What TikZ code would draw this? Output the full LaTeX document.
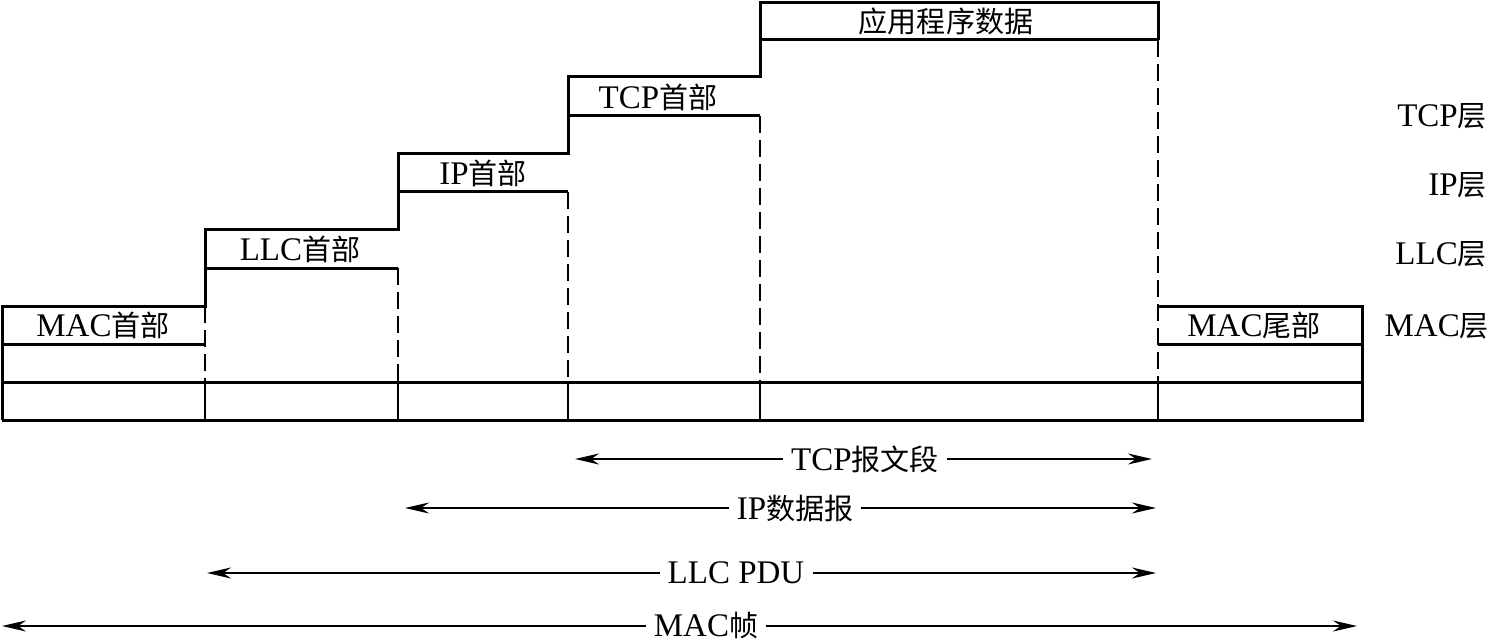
\documentclass[tikz,border=0pt]{standalone}
\usepackage{fontspec}
\setmainfont{Liberation Serif}
\newfontfamily\cjk[Scale=0.88]{Noto Sans CJK SC}
\usetikzlibrary{arrows.meta}
\begin{document}
\begin{tikzpicture}[x=1pt,y=-1pt,
  solidline/.style={line width=3pt, line join=miter},
  thinsolid/.style={line width=2.6pt},
  dsh/.style={line width=2.6pt, dash pattern=on 17pt off 7pt},
  lbl/.style={font=\fontsize{33}{35}\selectfont, inner sep=0pt},
  span/.style={font=\fontsize{33}{35}\selectfont, inner ysep=0pt, inner xsep=8pt},
  arr/.style={line width=2.2pt, -{Stealth[length=24pt,width=11pt]}}]
\useasboundingbox (0,0) rectangle (1490,644);
% staircase outline
\draw[solidline] (2,420) -- (2,306) -- (205,306) -- (205,230) -- (398,230) -- (398,154)
  -- (568,154) -- (568,77) -- (760,77) -- (760,3) -- (1158,3) -- (1158,40);
\draw[solidline] (1158,306) -- (1362,306) -- (1362,420) -- (2,420);
\draw[solidline] (2,382) -- (1362,382);
% header bottoms
\draw[solidline] (2,344) -- (205,344);
\draw[solidline] (205,268) -- (398,268);
\draw[solidline] (398,192) -- (568,192);
\draw[solidline] (568,116) -- (760,116);
\draw[solidline] (760,40) -- (1158,40);
\draw[solidline] (1158,344) -- (1362,344);
% bottom-row verticals
\foreach \x in {205,398,568,760,1158} \draw[thinsolid] (\x,382) -- (\x,420);
% dashed verticals
\draw[dsh] (205,306) -- (205,382);
\draw[dsh] (398,268) -- (398,382);
\draw[dsh] (568,192) -- (568,382);
\draw[dsh] (760,116) -- (760,382);
\draw[dsh] (1158,40) -- (1158,382);
% header labels
\node[lbl] (machdr) at (103,325) {MAC{\cjk 首部}};
\node[lbl] (llchdr) at (300,249) {LLC{\cjk 首部}};
\node[lbl] (iphdr) at (483,173) {IP{\cjk 首部}};
\node[lbl] (tcphdr) at (658,97) {TCP{\cjk 首部}};
\node[lbl] (appdata) at (946,21) {\cjk 应用程序数据};
\node[lbl] (mactrl) at (1254,325) {MAC{\cjk 尾部}};
% layer labels
\node[lbl, anchor=east] (tcpl) at (1487,116) {TCP{\cjk 层}};
\node[lbl, anchor=east] (ipl) at (1487,185) {IP{\cjk 层}};
\node[lbl, anchor=east] (llcl) at (1487,254) {LLC{\cjk 层}};
\node[lbl, anchor=east] (macl) at (1489,326) {MAC{\cjk 层}};
% spans
\coordinate (tcpL) at (575,459); \coordinate (tcpR) at (1152,459);
\coordinate (ipL) at (405,508); \coordinate (ipR) at (1156,508);
\coordinate (llcL) at (207,573); \coordinate (llcR) at (1156,573);
\coordinate (macL) at (2,626); \coordinate (macR) at (1357,626);
\node[span] (tcps) at (865,459) {TCP{\cjk 报文段}};
\node[span] (ips) at (795,508) {IP{\cjk 数据报}};
\node[span] (llcs) at (736,573) {LLC PDU};
\node[span] (macs) at (706,626) {MAC{\cjk 帧}};
\draw[arr] (tcps.west) -- (tcpL); \draw[arr] (tcps.east) -- (tcpR);
\draw[arr] (ips.west) -- (ipL); \draw[arr] (ips.east) -- (ipR);
\draw[arr] (llcs.west) -- (llcL); \draw[arr] (llcs.east) -- (llcR);
\draw[arr] (macs.west) -- (macL); \draw[arr] (macs.east) -- (macR);
\end{tikzpicture}
\end{document}
